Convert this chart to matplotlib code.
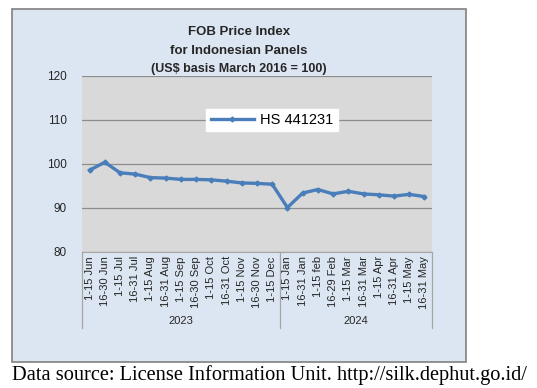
import matplotlib.pyplot as plt
from matplotlib.patches import Rectangle
import matplotlib.transforms as mtransforms

plt.rcParams['font.family'] = ['Liberation Sans', 'DejaVu Sans']

# --- data ---
periods_2023 = ['1-15 Jun', '16-30 Jun', '1-15 Jul', '16-31 Jul', '1-15 Aug', '16-31 Aug',
                '1-15 Sep', '16-30 Sep', '1-15 Oct', '16-31 Oct', '1-15 Nov', '16-30 Nov',
                '1-15 Dec']
periods_2024 = ['1-15 Jan', '16-31 Jan', '1-15 feb', '16-29 Feb', '1-15 Mar', '16-31 Mar',
                '1-15 Apr', '16-31 Apr', '1-15 May', '16-31 May']
years = ['2023', '2024']
hs441231 = [98.6, 100.4, 98.0, 97.7, 96.9, 96.8, 96.5, 96.5, 96.4, 96.1, 95.7, 95.6, 95.4,
            90.1, 93.4, 94.2, 93.2, 93.8, 93.2, 93.0, 92.7, 93.1, 92.6]

labels = periods_2023 + periods_2024
x = list(range(len(labels)))

fig = plt.figure(figsize=(5.37, 3.88), dpi=100)
W, H = 537, 388

# outer chart box
box = Rectangle((12 / W, 1 - 362 / H), (466 - 12) / W, (362 - 9) / H, transform=fig.transFigure,
                facecolor='#dce6f2', edgecolor='#808080', linewidth=1.2, zorder=0)
fig.patches.append(box)

ax = fig.add_axes([82 / W, 1 - 252 / H, (432 - 82) / W, (252 - 76) / H], zorder=2)
ax.set_facecolor('#d9d9d9')
ax.plot(x, hs441231, color='#4a7ebb', linewidth=2.4, marker='D', markersize=2.5,
        label='HS 441231', zorder=3)

ax.set_xlim(-0.5, len(labels) - 0.5)
ax.set_ylim(80, 120)
ax.set_yticks([80, 90, 100, 110, 120])
ax.grid(axis='y', color='#8c8c8c', linewidth=0.9)
ax.set_axisbelow(True)
for s in ['top', 'left', 'right']:
    ax.spines[s].set_visible(False)
ax.spines['bottom'].set_color('#a6a6a6')
ax.tick_params(axis='y', length=0, labelsize=8.5, pad=11, colors='#262626')
ax.set_xticks(x)
ax.set_xticklabels(labels, rotation=90, fontsize=8, color='#262626', va='top')
ax.tick_params(axis='x', length=0, pad=3)

# multi-level category axis: year separators and year labels
trans = mtransforms.blended_transform_factory(ax.transData, ax.transAxes)
n23 = len(periods_2023)
for xs in [-0.5, n23 - 0.5, len(labels) - 0.5]:
    ax.plot([xs, xs], [0, -0.43], transform=trans, color='#a6a6a6', linewidth=0.9, clip_on=False)
ax.text((n23 - 1) / 2, -0.39, years[0], transform=trans, ha='center', va='center', fontsize=8,
        color='#262626')
ax.text(n23 + (len(periods_2024) - 1) / 2, -0.39, years[1], transform=trans, ha='center',
        va='center', fontsize=8, color='#262626')

leg = ax.legend(loc='center', bbox_to_anchor=(272 / W, 1 - 120 / H), bbox_transform=fig.transFigure,
                fontsize=10.5, frameon=True, fancybox=False, handlelength=3.0, borderpad=0.3,
                handletextpad=0.4, borderaxespad=0)
leg.get_frame().set_edgecolor('white')
leg.get_frame().set_facecolor('white')
leg.get_frame().set_alpha(1)

# title
fig.text(239 / W, 1 - 32 / H, 'FOB Price Index', ha='center', va='center', fontsize=9.5,
         fontweight='bold', color='#262626')
fig.text(239 / W, 1 - 51 / H, 'for Indonesian Panels', ha='center', va='center', fontsize=9.5,
         fontweight='bold', color='#262626')
fig.text(239 / W, 1 - 69 / H, '(US$ basis March 2016 = 100)', ha='center', va='center',
         fontsize=9, fontweight='bold', color='#262626')

fig.text(12 / W, 1 - 375 / H, 'Data source: License Information Unit. http://silk.dephut.go.id/',
         ha='left', va='center', fontsize=14.7, family='Liberation Serif', color='black')

fig.savefig('out.png', dpi=100)
